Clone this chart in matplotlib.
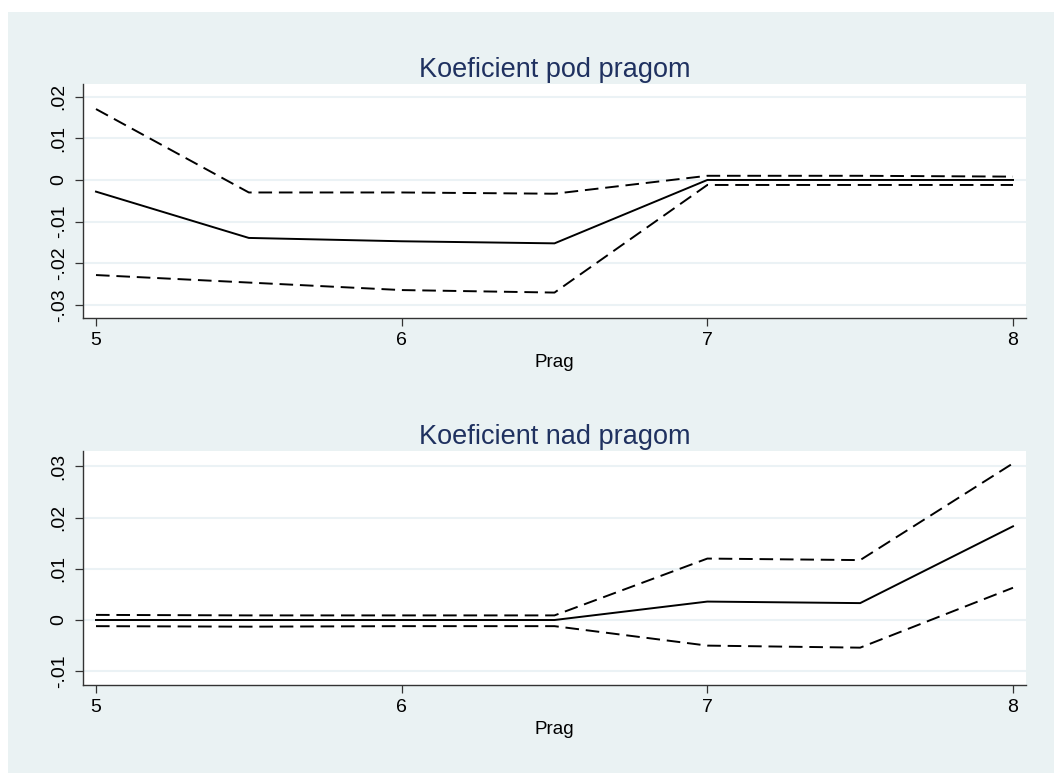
import matplotlib
matplotlib.use("Agg")
import matplotlib.pyplot as plt
from matplotlib.patches import Rectangle

# threshold values (x axis)
prag = [5, 5.5, 6, 6.5, 7, 7.5, 8]

# coefficient below threshold: estimate and confidence bounds
pod_coef = [-0.0028, -0.0139, -0.0147, -0.0152, 0.0000, 0.0000, 0.0000]
pod_upper = [0.0170, -0.0030, -0.0030, -0.0033, 0.0010, 0.0010, 0.0008]
pod_lower = [-0.0228, -0.0246, -0.0264, -0.0270, -0.0012, -0.0012, -0.0012]

# coefficient above threshold
nad_coef = [0.0000, 0.0000, 0.0000, 0.0000, 0.0036, 0.0033, 0.0183]
nad_upper = [0.0010, 0.0009, 0.0009, 0.0009, 0.0120, 0.0117, 0.0306]
nad_lower = [-0.0012, -0.0013, -0.0012, -0.0012, -0.0050, -0.0054, 0.0063]

pod_ticks = [-0.03, -0.02, -0.01, 0, 0.01, 0.02]
pod_ticklabels = ["-.03", "-.02", "-.01", "0", ".01", ".02"]
nad_ticks = [-0.01, 0, 0.01, 0.02, 0.03]
nad_ticklabels = ["-.01", "0", ".01", ".02", ".03"]

BG = "#EAF2F3"
GRID = "#EBF2F5"
TITLE = "#1F3160"

plt.rcParams["font.family"] = ["Liberation Sans", "DejaVu Sans"]

fig = plt.figure(figsize=(10.54, 7.73), dpi=100)
fig.patches.append(Rectangle((8 / 1054, 0), 1, 1 - 12 / 773, transform=fig.transFigure,
                             facecolor=BG, edgecolor="none", zorder=-10))

panels = [
    ("Koeficient pod pragom", pod_coef, pod_upper, pod_lower,
     pod_ticks, pod_ticklabels, (-0.0331, 0.0230), 0.5886),
    ("Koeficient nad pragom", nad_coef, nad_upper, nad_lower,
     nad_ticks, nad_ticklabels, (-0.0127, 0.0330), 0.1138),
]

for title, coef, upper, lower, ticks, labels, ylim, bottom in panels:
    ax = fig.add_axes([83 / 1054, bottom, 943 / 1054, 0.3027])
    ax.set_facecolor("white")
    ax.plot(prag, upper, color="black", lw=1.4, dashes=(7, 3.5))
    ax.plot(prag, coef, color="black", lw=1.4)
    ax.plot(prag, lower, color="black", lw=1.4, dashes=(7, 3.5))

    ax.set_xlim(4.9575, 8.0425)
    ax.set_ylim(*ylim)
    ax.set_xticks([5, 6, 7, 8])
    ax.set_yticks(ticks)
    ax.set_yticklabels(labels, rotation=90, va="center")
    ax.grid(True, axis="y", color=GRID, lw=1.5)
    ax.set_axisbelow(True)
    ax.tick_params(length=6, width=0.9, color="#333333", labelsize=14, pad=4)
    ax.tick_params(axis="y", pad=5)

    for side in ["top", "right"]:
        ax.spines[side].set_visible(False)
    for side in ["left", "bottom"]:
        ax.spines[side].set_color("#333333")
        ax.spines[side].set_linewidth(1.0)

    ax.set_xlabel("Prag", fontsize=13.5, labelpad=4)
    ax.set_title(title, fontsize=19.5, color=TITLE, pad=5)

plt.savefig("out.png", dpi=100)
